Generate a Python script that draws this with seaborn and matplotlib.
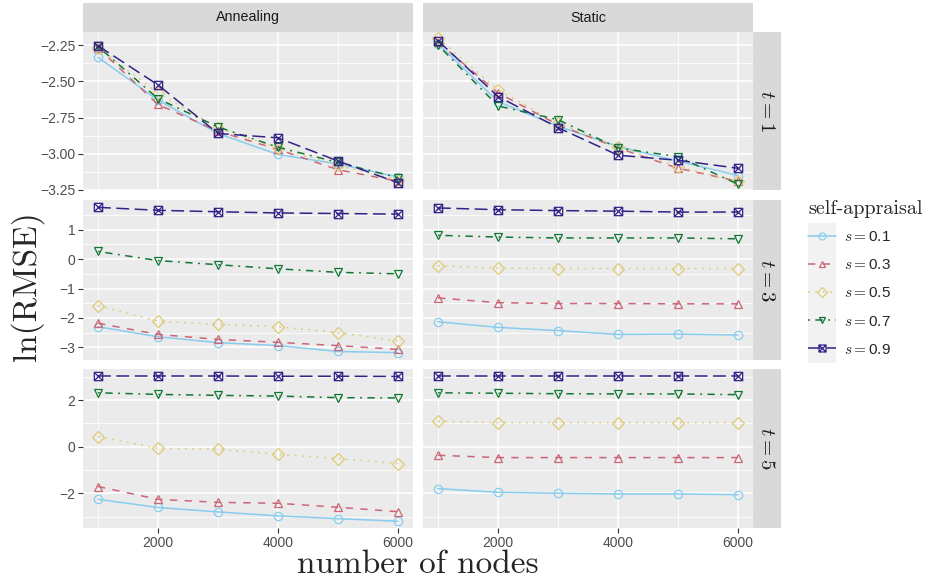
import matplotlib
matplotlib.use("Agg")
import matplotlib.pyplot as plt
import seaborn as sns
import pandas as pd
import numpy as np
from matplotlib.path import Path
from matplotlib.patches import Rectangle
from matplotlib.lines import Line2D

# ---------------- data ----------------
nodes = [1000, 2000, 3000, 4000, 5000, 6000]
s_levels = ["0.1", "0.3", "0.5", "0.7", "0.9"]
methods = ["Annealing", "Static"]
t_levels = [1, 3, 5]

# rows: s = 0.1, 0.3, 0.5, 0.7, 0.9
annealing_t1 = [
    [-2.335, -2.63, -2.86, -3.005, -3.07, -3.16],
    [-2.27, -2.66, -2.845, -2.97, -3.11, -3.19],
    [-2.27, -2.58, -2.82, -2.96, -3.08, -3.18],
    [-2.26, -2.62, -2.815, -2.955, -3.06, -3.165],
    [-2.255, -2.525, -2.86, -2.89, -3.05, -3.20],
]
static_t1 = [
    [-2.24, -2.64, -2.81, -2.95, -3.05, -3.15],
    [-2.23, -2.58, -2.80, -2.96, -3.10, -3.19],
    [-2.20, -2.56, -2.79, -2.95, -3.09, -3.19],
    [-2.25, -2.67, -2.765, -2.96, -3.02, -3.21],
    [-2.22, -2.605, -2.82, -3.01, -3.045, -3.10],
]
annealing_t3 = [
    [-2.30, -2.64, -2.84, -2.94, -3.14, -3.18],
    [-2.18, -2.56, -2.73, -2.83, -2.94, -3.07],
    [-1.58, -2.11, -2.22, -2.30, -2.50, -2.78],
    [0.26, -0.05, -0.19, -0.33, -0.45, -0.50],
    [1.76, 1.66, 1.61, 1.57, 1.55, 1.53],
]
static_t3 = [
    [-2.13, -2.32, -2.43, -2.56, -2.55, -2.58],
    [-1.32, -1.48, -1.51, -1.51, -1.52, -1.52],
    [-0.23, -0.31, -0.32, -0.32, -0.32, -0.32],
    [0.81, 0.75, 0.72, 0.72, 0.72, 0.69],
    [1.74, 1.68, 1.65, 1.63, 1.60, 1.60],
]
annealing_t5 = [
    [-2.26, -2.61, -2.80, -2.97, -3.09, -3.20],
    [-1.71, -2.26, -2.39, -2.43, -2.60, -2.79],
    [0.43, -0.07, -0.11, -0.33, -0.51, -0.73],
    [2.31, 2.24, 2.20, 2.17, 2.10, 2.09],
    [3.03, 3.03, 3.03, 3.02, 3.02, 3.01],
]
static_t5 = [
    [-1.80, -1.96, -2.00, -2.03, -2.03, -2.06],
    [-0.37, -0.47, -0.47, -0.47, -0.47, -0.47],
    [1.09, 1.03, 1.03, 1.03, 1.03, 1.03],
    [2.31, 2.29, 2.27, 2.26, 2.26, 2.23],
    [3.04, 3.04, 3.04, 3.04, 3.04, 3.04],
]

panel_data = {
    ("Annealing", 1): annealing_t1, ("Static", 1): static_t1,
    ("Annealing", 3): annealing_t3, ("Static", 3): static_t3,
    ("Annealing", 5): annealing_t5, ("Static", 5): static_t5,
}

rows_ = []
for (m, t), mat in panel_data.items():
    for si, s in enumerate(s_levels):
        for n, v in zip(nodes, mat[si]):
            rows_.append(dict(method=m, t=t, s=s, nodes=n, value=v))
df = pd.DataFrame(rows_)

# ---------------- styles ----------------
colors = ["#88CCEE", "#CC6677", "#DDCC77", "#117733", "#332288"]
palette = dict(zip(s_levels, colors))

boxx = Path([(-1, -1), (1, -1), (1, 1), (-1, 1), (-1, -1),
             (-1, -1), (1, 1), (-1, 1), (1, -1)],
            [Path.MOVETO, Path.LINETO, Path.LINETO, Path.LINETO, Path.CLOSEPOLY,
             Path.MOVETO, Path.LINETO, Path.MOVETO, Path.LINETO])
markers = dict(zip(s_levels, ["o", "^", "D", "v", boxx]))
k = 1.2
dashes = {
    "0.1": "",
    "0.3": (4 * k, 4 * k),
    "0.5": (1 * k, 3 * k),
    "0.7": (1 * k, 3 * k, 4 * k, 3 * k),
    "0.9": (7 * k, 3 * k),
}

sns.set_theme(style="darkgrid")
plt.rcParams["mathtext.fontset"] = "cm"
plt.rcParams["font.family"] = ["Liberation Sans", "DejaVu Sans"]

W, H = 929, 579
fig = plt.figure(figsize=(W / 100, H / 100), dpi=100)
fig.patch.set_facecolor("white")


def rect(x0, y0, x1, y1):
    return [x0 / W, 1 - y1 / H, (x1 - x0) / W, (y1 - y0) / H]


cols = [(83, 413), (423, 753)]
rowsy = [(32, 190), (200, 360), (369, 528)]
ylims = {1: (-3.25, -2.16), 3: (-3.43, 2.01), 5: (-3.49, 3.33)}
yticks = {1: [-3.25, -3.0, -2.75, -2.5, -2.25], 3: [-3, -2, -1, 0, 1], 5: [-2, 0, 2]}
ylabels = {1: ["\u22123.25", "\u22123.00", "\u22122.75", "\u22122.50", "\u22122.25"],
           3: ["\u22123", "\u22122", "\u22121", "0", "1"],
           5: ["\u22122", "0", "2"]}

for ri, t in enumerate(t_levels):
    for ci, m in enumerate(methods):
        x0, x1 = cols[ci]
        y0, y1 = rowsy[ri]
        ax = fig.add_axes(rect(x0, y0, x1, y1))
        sub = df[(df.method == m) & (df.t == t)]
        sns.lineplot(data=sub, x="nodes", y="value", hue="s", style="s",
                     palette=palette, markers=markers, dashes=dashes,
                     hue_order=s_levels, style_order=s_levels,
                     linewidth=1.1, markersize=6, markeredgewidth=0.9,
                     legend=False, ax=ax)
        for ln in ax.lines:
            c = ln.get_color()
            ln.set_markerfacecolor("none")
            ln.set_markeredgecolor(c)
        ax.set_facecolor("#EBEBEB")
        for sp in ax.spines.values():
            sp.set_visible(False)
        ax.set_xlim(750, 6250)
        ax.set_ylim(*ylims[t])
        ax.set_xticks([2000, 4000, 6000])
        ax.set_xticks([1000, 3000, 5000], minor=True)
        yt = yticks[t]
        ax.set_yticks(yt)
        step = yt[1] - yt[0]
        mins = [v + step / 2 for v in [yt[0] - step] + yt]
        lo, hi = ylims[t]
        ax.set_yticks([v for v in mins if lo < v < hi], minor=True)
        ax.grid(which="major", color="white", linewidth=1.1)
        ax.grid(which="minor", color="white", linewidth=0.55)
        ax.set_axisbelow(True)
        ax.set_xlabel("")
        ax.set_ylabel("")
        ax.tick_params(which="minor", length=0)
        ax.tick_params(axis="both", which="major", bottom=True, left=True,
                       length=3.5, width=0.8, color="#333333",
                       labelcolor="#4D4D4D", labelsize=10, pad=2)
        if ci == 0:
            ax.set_yticklabels(ylabels[t])
        else:
            ax.tick_params(axis="y", which="major", length=0, labelleft=False)
        if ri == 2:
            ax.set_xticklabels(["2000", "4000", "6000"])
        else:
            ax.tick_params(axis="x", which="major", length=0, labelbottom=False)

        # top strips
        if ri == 0:
            sax = fig.add_axes(rect(x0, 3, x1, y0))
            sax.set_facecolor("#D9D9D9")
            sax.grid(False)
            sax.set_xticks([]); sax.set_yticks([])
            for sp in sax.spines.values():
                sp.set_visible(False)
            sax.text(0.5, 0.5, m, ha="center", va="center", fontsize=10.3,
                     color="#1A1A1A", transform=sax.transAxes)
        # right strips
        if ci == 1:
            rax = fig.add_axes(rect(753, y0, 781, y1))
            rax.set_facecolor("#D9D9D9")
            rax.grid(False)
            rax.set_xticks([]); rax.set_yticks([])
            for sp in rax.spines.values():
                sp.set_visible(False)
            rax.text(0.5, 0.5, r"$t=%d$" % t, ha="center", va="center",
                     fontsize=15, rotation=270, color="#1A1A1A",
                     transform=rax.transAxes)

# axis titles
fig.text(27 / W, 1 - 286 / H, "ln(RMSE)", rotation=90, ha="center", va="center",
         fontsize=24, family="cmr10")
fig.text(418 / W, 1 - 573 / H, "number of nodes", ha="center", va="baseline",
         fontsize=24, family="cmr10")

# legend
fig.text(808 / W, 1 - 209 / H, "self-appraisal", ha="left", va="center",
         fontsize=14.5, family="cmr10")
fig.patches.append(Rectangle((808 / W, 1 - 363 / H), 28 / W, 140 / H,
                             transform=fig.transFigure, facecolor="#F2F2F2",
                             edgecolor="none", zorder=0))
handles = []
for s in s_levels:
    d = dashes[s]
    h = Line2D([0], [0], color=palette[s], linewidth=1.1, marker=markers[s],
               markersize=5, markerfacecolor="none", markeredgecolor=palette[s],
               markeredgewidth=0.9)
    if d:
        h.set_dashes(d)
    handles.append(h)
labels = [r"$s=$" + s for s in s_levels]
fig.legend(handles, labels, loc="upper left",
           bbox_to_anchor=(808 / W, 1 - 230 / H), frameon=False,
           borderpad=0, borderaxespad=0, handlelength=1.8, handletextpad=0.55,
           labelspacing=0.93, numpoints=1, fontsize=11)

fig.savefig("out.png", dpi=100, facecolor="white")
